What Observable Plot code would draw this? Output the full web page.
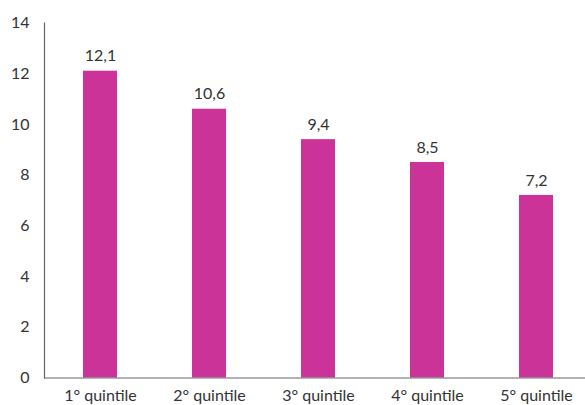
<!DOCTYPE html>
<html>
<head>
<meta charset="utf-8">
<script src="https://cdn.jsdelivr.net/npm/d3@7"></script>
<script src="https://cdn.jsdelivr.net/npm/@observablehq/plot@0.6"></script>
<style>
  html, body { margin: 0; padding: 0; background: #fff; }
  #chart svg { display: block; }
</style>
</head>
<body>
<div id="chart"></div>
<script>
const categories = ["1° quintile", "2° quintile", "3° quintile", "4° quintile", "5° quintile"];
const values = [12.1, 10.6, 9.4, 8.5, 7.2];
const yTicks = [0, 2, 4, 6, 8, 10, 12, 14];

const data = categories.map((c, i) => ({ cat: c, value: values[i] }));
const fmt = d3.formatLocale({ decimal: ",", thousands: ".", grouping: [3], currency: ["", "€"] }).format(".1f");

const chart = Plot.plot({
  width: 585,
  height: 405,
  marginLeft: 44,
  marginRight: -6,
  marginTop: 22.5,
  marginBottom: 27.5,
  style: { fontFamily: "Lato, sans-serif", fontSize: "16px", color: "#333", background: "#fff" },
  x: { domain: categories, paddingInner: 0.69, paddingOuter: 0.345, label: null },
  y: { domain: [0, 14], ticks: yTicks, label: null },
  marks: [
    Plot.barY(data, { x: "cat", y: "value", fill: "#CC3399" }),
    Plot.text(data, { x: "cat", y: "value", text: d => fmt(d.value), dy: -15, fill: "#333", fontSize: 16 }),
    Plot.axisY({ ticks: yTicks, tickSize: 0, tickPadding: 15, fontSize: 16, fill: "#333" }),
    Plot.axisX({ tickSize: 0, tickPadding: 12, fontSize: 16, fill: "#333" }),
    Plot.ruleY([0], { stroke: "#666", strokeWidth: 1.2 }),
    Plot.frame({ anchor: "left", stroke: "#666", strokeWidth: 1.2 })
  ]
});
document.getElementById("chart").appendChild(chart);
</script>
</body>
</html>
